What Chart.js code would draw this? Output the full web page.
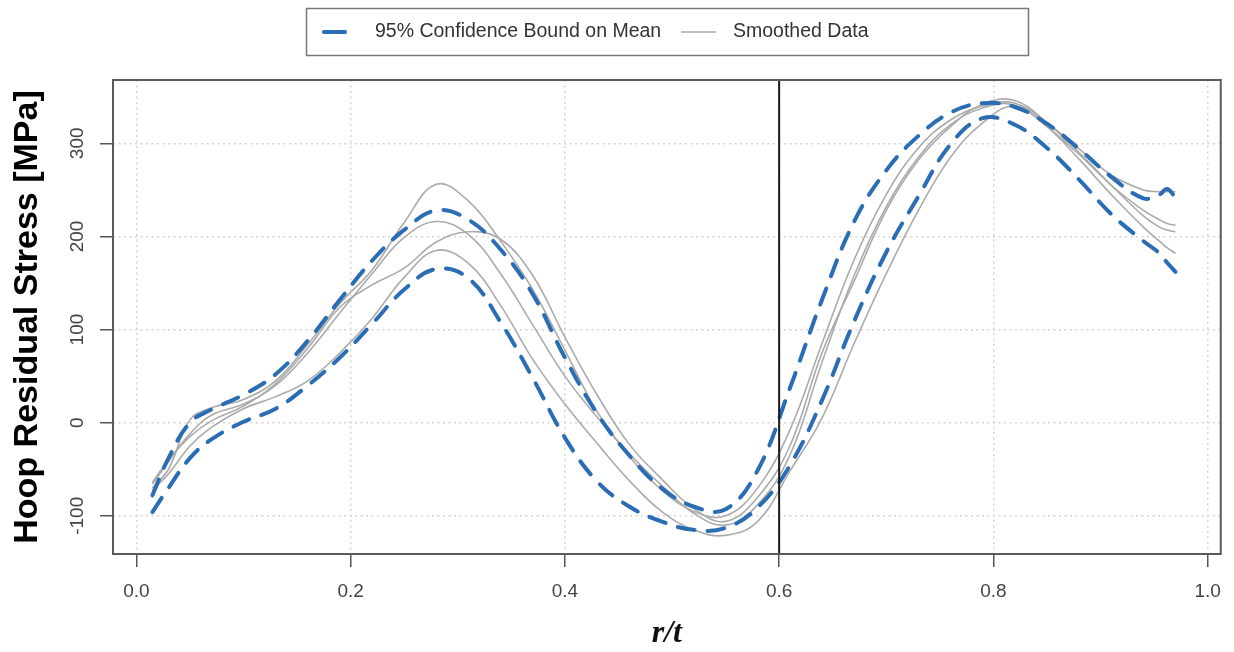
<!DOCTYPE html>
<html>
<head>
<meta charset="utf-8">
<title>Hoop Residual Stress</title>
<script src="https://cdn.jsdelivr.net/npm/chart.js@4.4.1/dist/chart.umd.min.js"></script>
<style>
  html, body { margin: 0; padding: 0; background: #fff; }
  #wrap { width: 1234px; height: 652px; }
</style>
</head>
<body>
<div id="wrap"><canvas id="myChart" width="1234" height="652"></canvas></div>
<script>
var rt = [0.015, 0.03, 0.05, 0.07, 0.10, 0.13, 0.16, 0.19, 0.22, 0.25, 0.28, 0.31,
          0.34, 0.37, 0.40, 0.43, 0.46, 0.49, 0.52, 0.55, 0.58, 0.61, 0.64, 0.67,
          0.70, 0.73, 0.76, 0.79, 0.82, 0.85, 0.88, 0.91, 0.94, 0.955, 0.962, 0.97];

// 95% confidence bounds on the mean (MPa)
var upperBound = [-78, -38, 0, 14, 30, 52, 88, 132, 174, 207, 228, 218,
                  186, 138, 70, 10, -35, -70, -90, -93, -51, 37, 132, 216,
                  271, 308, 333, 343, 339, 321, 294, 264, 241, 245, 251, 242];
var lowerBound = [-96, -70, -38, -18, 1, 15, 40, 70, 106, 143, 165, 155,
                  108, 48, -16, -63, -90, -106, -115, -113, -91, -46, 24, 109,
                  183, 243, 299, 327, 320, 295, 261, 224, 195, 182, 172, 162];

// smoothed measurements (MPa)
var smoothA = [-70, -50, 3, 16, 25, 45, 84, 128, 164, 215, 256, 238,
               195, 143, 78, 12, -36, -72, -95, -100, -70, -8, 85, 175,
               245, 295, 325, 340, 343, 322, 294, 266, 250, 248, 248, 248];
var smoothB = [-66, -42, -12, 8, 20, 40, 75, 118, 160, 199, 216, 202,
               160, 105, 50, 6, -33, -67, -97, -110, -88, -35, 65, 158,
               232, 285, 320, 338, 341, 318, 288, 255, 228, 218, 214, 212];
var smoothC = [-64, -40, -15, 2, 18, 42, 80, 124, 148, 166, 194, 205,
               197, 158, 92, 30, -23, -60, -92, -106, -80, -25, 75, 152,
               228, 282, 318, 342, 346, 322, 290, 255, 222, 210, 207, 205];
var smoothD = [-72, -55, -25, -5, 15, 28, 45, 75, 112, 156, 185, 171,
               126, 68, 20, -22, -62, -95, -115, -121, -106, -52, 5, 85,
               160, 228, 285, 322, 340, 318, 283, 245, 210, 195, 188, 182];

var xTicks = [0, 0.2, 0.4, 0.6, 0.8, 1.0];
var yTicks = [-100, 0, 100, 200, 300];
var cutoff = 0.6;
var legendLabels = ['95% Confidence Bound on Mean', 'Smoothed Data'];

var blue = '#2a6db5';
var grey = '#ababab';
var sans = '"Liberation Sans", Arial, sans-serif';

function toPoints(ys) {
  return rt.map(function (x, i) { return { x: x, y: ys[i] }; });
}

function boundSet(ys) {
  return {
    label: legendLabels[0], data: toPoints(ys),
    borderColor: blue, borderWidth: 4, borderDash: [17, 13], borderCapStyle: 'round',
    tension: 0.4, pointRadius: 0, order: 0
  };
}

function smoothSet(ys) {
  return {
    label: legendLabels[1], data: toPoints(ys),
    borderColor: grey, borderWidth: 1.6,
    tension: 0.4, pointRadius: 0, order: 1
  };
}

// frame, cut-off line, rotated y labels and boxed legend, R style
var rStyle = {
  id: 'rStyle',
  afterDatasetsDraw: function (chart) {
    var ctx = chart.ctx, a = chart.chartArea;
    var px = chart.scales.x.getPixelForValue(cutoff);
    ctx.save();
    ctx.strokeStyle = '#1a1a1a';
    ctx.lineWidth = 2;
    ctx.beginPath();
    ctx.moveTo(px, a.top);
    ctx.lineTo(px, a.bottom);
    ctx.stroke();
    ctx.restore();
  },
  afterDraw: function (chart) {
    var ctx = chart.ctx, a = chart.chartArea, ys = chart.scales.y;
    ctx.save();
    ctx.strokeStyle = '#5a5a5a';
    ctx.lineWidth = 2;
    ctx.strokeRect(a.left, a.top, a.right - a.left, a.bottom - a.top);

    // y tick labels, turned like R's las=0
    ctx.fillStyle = '#444';
    ctx.font = '19px ' + sans;
    ctx.textAlign = 'center';
    ctx.textBaseline = 'middle';
    yTicks.forEach(function (v) {
      ctx.save();
      ctx.translate(78, ys.getPixelForValue(v));
      ctx.rotate(-Math.PI / 2);
      ctx.fillText(String(v), 0, 0);
      ctx.restore();
    });

    // legend box
    ctx.strokeStyle = '#777';
    ctx.lineWidth = 1.5;
    ctx.strokeRect(306.5, 8.5, 722, 47);
    ctx.lineCap = 'round';
    ctx.strokeStyle = blue;
    ctx.lineWidth = 4;
    ctx.beginPath(); ctx.moveTo(324, 32); ctx.lineTo(345, 32); ctx.stroke();
    ctx.strokeStyle = grey;
    ctx.lineWidth = 1.6;
    ctx.lineCap = 'butt';
    ctx.beginPath(); ctx.moveTo(681, 32); ctx.lineTo(716, 32); ctx.stroke();
    ctx.fillStyle = '#333';
    ctx.font = '19.5px ' + sans;
    ctx.textAlign = 'left';
    ctx.fillText(legendLabels[0], 375, 32);
    ctx.fillText(legendLabels[1], 733, 32);
    ctx.restore();
  }
};

var gridOpts = {
  color: '#d4d4d4', lineWidth: 1.5,
  tickColor: '#555', tickWidth: 1.5, tickLength: 13, tickBorderDash: []
};

var ctx = document.getElementById('myChart').getContext('2d');
var myChart = new Chart(ctx, {
  type: 'line',
  data: {
    datasets: [
      boundSet(upperBound), boundSet(lowerBound),
      smoothSet(smoothA), smoothSet(smoothB), smoothSet(smoothC), smoothSet(smoothD)
    ]
  },
  options: {
    responsive: false,
    animation: false,
    devicePixelRatio: 1,
    layout: { padding: { left: 0, top: 80, right: 11, bottom: 0 } },
    plugins: { legend: { display: false }, tooltip: { enabled: false } },
    scales: {
      x: {
        type: 'linear', min: -0.0218, max: 1.0122,
        afterBuildTicks: function (s) { s.ticks = xTicks.map(function (v) { return { value: v }; }); },
        afterFit: function (s) { s.height = 98; },
        grid: gridOpts,
        border: { display: false, dash: [2, 3.5] },
        ticks: {
          padding: 13, color: '#444', font: { family: sans, size: 19 },
          maxRotation: 0, autoSkip: false,
          callback: function (v) { return Number(v).toFixed(1); }
        },
        title: {
          display: true, text: 'r/t', color: '#111',
          font: { family: '"Liberation Serif", "Times New Roman", serif', size: 32, style: 'italic', weight: 'bold', lineHeight: 1 },
          padding: { top: 0, bottom: 2 }
        }
      },
      y: {
        type: 'linear', min: -141, max: 368,
        afterBuildTicks: function (s) { s.ticks = yTicks.map(function (v) { return { value: v }; }); },
        afterFit: function (s) { s.width = 113; },
        grid: gridOpts,
        border: { display: false, dash: [2, 3.5] },
        ticks: { display: false },
        title: {
          display: true, text: 'Hoop Residual Stress [MPa]', color: '#000',
          font: { family: sans, size: 34, weight: 'bold', lineHeight: 1.2 },
          padding: { top: 7, bottom: 0 }
        }
      }
    }
  },
  plugins: [rStyle]
});
</script>
</body>
</html>
